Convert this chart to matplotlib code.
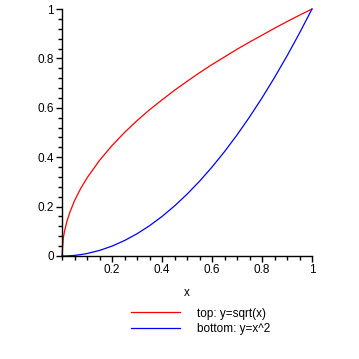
import matplotlib
matplotlib.use("Agg")
import matplotlib.pyplot as plt
from matplotlib.ticker import MultipleLocator, FixedLocator

plt.rcParams['font.family'] = ['Liberation Sans', 'DejaVu Sans']

x_vals = [0.0, 0.005, 0.01, 0.02, 0.03, 0.05, 0.075, 0.1, 0.15, 0.2, 0.25, 0.3, 0.35, 0.4,
          0.45, 0.5, 0.55, 0.6, 0.65, 0.7, 0.75, 0.8, 0.85, 0.9, 0.95, 1.0]
top_vals = [0.0, 0.071, 0.1, 0.141, 0.173, 0.224, 0.274, 0.316, 0.387, 0.447, 0.5, 0.548,
            0.592, 0.632, 0.671, 0.707, 0.742, 0.775, 0.806, 0.837, 0.866, 0.894, 0.922,
            0.949, 0.975, 1.0]
bottom_vals = [0.0, 0.0, 0.0001, 0.0004, 0.0009, 0.0025, 0.0056, 0.01, 0.0225, 0.04, 0.0625,
               0.09, 0.1225, 0.16, 0.2025, 0.25, 0.3025, 0.36, 0.4225, 0.49, 0.5625, 0.64,
               0.7225, 0.81, 0.9025, 1.0]
legend_labels = ['top: y=sqrt(x)', 'bottom: y=x^2']
x_ticks = [0.2, 0.4, 0.6, 0.8, 1.0]
x_tick_labels = ['0.2', '0.4', '0.6', '0.8', '1']
y_ticks = [0.0, 0.2, 0.4, 0.6, 0.8, 1.0]
y_tick_labels = ['0', '0.2', '0.4', '0.6', '0.8', '1']

W = H = 359
fig = plt.figure(figsize=(W / 100, H / 100), dpi=100)
ax = fig.add_axes([62 / W, 1 - 256 / H, (312 - 62) / W, (256 - 9) / H])

l1, = ax.plot(x_vals, top_vals, color='red', lw=0.9, clip_on=False)
l2, = ax.plot(x_vals, bottom_vals, color='blue', lw=0.9, clip_on=False)

ax.set_xlim(0, 1)
ax.set_ylim(0, 1)
for s in ['top', 'right']:
    ax.spines[s].set_visible(False)
for s in ['left', 'bottom']:
    ax.spines[s].set_linewidth(1.0)
    ax.spines[s].set_color('black')

ax.xaxis.set_major_locator(FixedLocator(x_ticks))
ax.set_xticklabels(x_tick_labels)
ax.yaxis.set_major_locator(FixedLocator(y_ticks))
ax.set_yticklabels(y_tick_labels)
ax.xaxis.set_minor_locator(MultipleLocator(0.05))
ax.yaxis.set_minor_locator(MultipleLocator(0.04))
ax.tick_params(which='major', length=4, width=1, labelsize=8.5, direction='out')
ax.tick_params(which='minor', length=3, width=1, direction='out')
ax.tick_params(axis='x', which='major', pad=2)
ax.tick_params(axis='y', which='major', pad=2)

ax.set_xlabel('x', fontsize=8.5, labelpad=8)

fig.legend([l1, l2], legend_labels, loc='upper left',
           bbox_to_anchor=(120 / W, 1 - 297 / H), frameon=False, fontsize=8.5,
           handlelength=4.2, handletextpad=1.4, labelspacing=0.3)

fig.savefig('out.png', dpi=100)
